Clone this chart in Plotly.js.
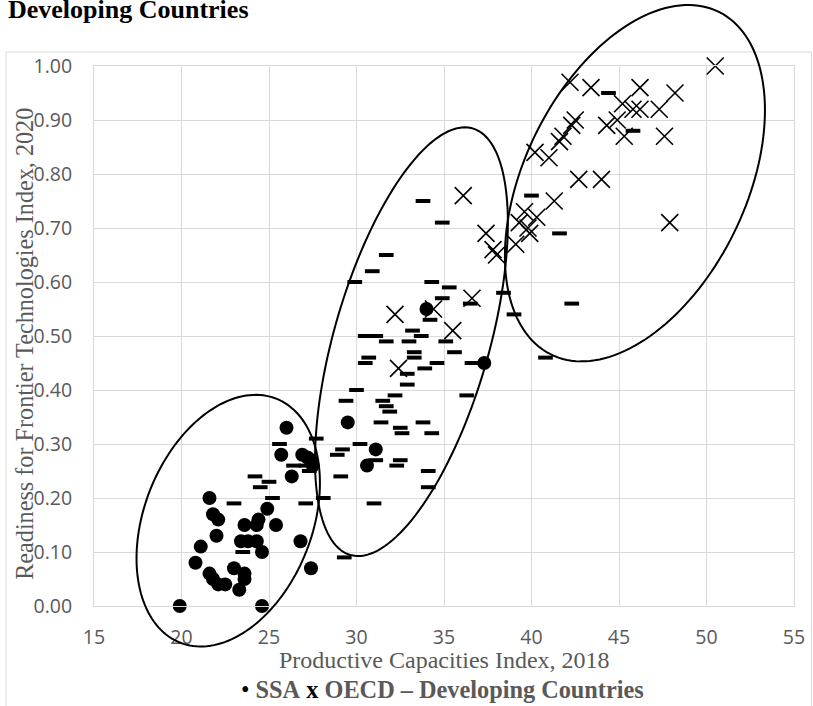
<!DOCTYPE html>
<html>
<head>
<meta charset="utf-8">
<script src="https://cdn.plot.ly/plotly-3.0.1.min.js"></script>
<style>html,body{margin:0;padding:0;background:#fff;}#chart{width:813px;height:706px;}</style>
</head>
<body>
<div id="chart"></div>
<script>
// ---- Data ----
const ssaX = [26.0,25.7,26.9,27.4,27.2,27.5,26.3,21.6,21.8,22.1,24.9,25.4,23.6,24.4,24.3,22.0,23.4,23.8,24.3,24.6,26.8,21.1,20.8,23.0,23.6,23.6,23.3,21.6,21.8,22.1,22.5,27.4,19.9,24.6,34.0,37.3,29.5,31.1,30.6];
const ssaY = [0.33,0.28,0.28,0.27,0.275,0.26,0.24,0.20,0.17,0.16,0.18,0.15,0.15,0.16,0.15,0.13,0.12,0.12,0.12,0.10,0.12,0.11,0.08,0.07,0.06,0.05,0.03,0.06,0.05,0.04,0.04,0.07,0.00,0.00,0.55,0.45,0.34,0.29,0.26];

const oecdX = [50.5,42.2,43.4,46.2,48.2,45.2,45.8,46.2,47.3,44.3,44.9,45.3,47.6,42.5,42.3,41.6,41.8,40.2,41.0,42.7,44.0,41.3,47.9,39.6,40.3,39.3,39.9,39.8,39.1,37.8,38.0,37.4,36.1,36.6,34.4,35.5,32.2,32.4];
const oecdY = [1.00,0.97,0.96,0.96,0.95,0.93,0.92,0.92,0.92,0.89,0.90,0.87,0.87,0.90,0.89,0.86,0.87,0.84,0.83,0.79,0.79,0.75,0.71,0.73,0.72,0.71,0.69,0.70,0.67,0.66,0.65,0.69,0.76,0.57,0.55,0.51,0.54,0.44];

const devX = [33.8,34.9,31.7,30.9,29.9,34.3,35.3,34.9,36.5,38.4,39.0,34.2,33.2,30.5,31.1,31.7,33.0,33.7,35.1,35.6,33.3,30.7,30.5,33.3,34.6,36.6,33.9,32.9,32.9,30.0,32.2,36.3,29.4,31.5,31.7,31.9,31.4,33.8,32.5,32.6,34.3,27.7,30.2,29.2,28.9,31.1,32.5,32.3,27.3,34.1,29.1,34.1,28.1,27.1,31.0,29.3,25.6,26.4,27.1,24.2,25.0,24.5,23.0,25.2,23.5,44.4,45.8,40.0,41.6,42.3,40.8];
const devY = [0.75,0.71,0.65,0.62,0.60,0.60,0.59,0.57,0.56,0.58,0.54,0.53,0.51,0.50,0.50,0.49,0.49,0.50,0.49,0.47,0.47,0.46,0.45,0.46,0.45,0.45,0.44,0.43,0.41,0.40,0.39,0.39,0.38,0.38,0.37,0.36,0.34,0.34,0.33,0.32,0.32,0.31,0.30,0.29,0.28,0.27,0.27,0.26,0.25,0.25,0.24,0.22,0.20,0.19,0.19,0.09,0.30,0.26,0.26,0.24,0.23,0.22,0.19,0.20,0.10,0.95,0.88,0.76,0.69,0.56,0.46];

const xTicks = [15,20,25,30,35,40,45,50,55];
const yTicks = [0,0.1,0.2,0.3,0.4,0.5,0.6,0.7,0.8,0.9,1.0];

// ---- Decorative cluster ellipses (data units: centre, half-width, half-height, phase cos) ----
const ellipseCX = [22.67, 33.14, 45.91];
const ellipseCY = [0.158, 0.4895, 0.783];
const ellipseW  = [5.24, 5.51, 7.43];
const ellipseH  = [0.233, 0.397, 0.330];
const ellipseC  = [0.30, 0.553, 0.41];

const XMIN = 15, XMAX = 55, YMIN = 0, YMAX = 1;
const toPX = x => (x - XMIN) / (XMAX - XMIN);
const toPY = y => (y - YMIN) / (YMAX - YMIN);

function ellipsePath(i) {
  const d = Math.acos(ellipseC[i]);
  const pts = [];
  const N = 160;
  for (let k = 0; k < N; k++) {
    const t = 2 * Math.PI * k / N;
    const x = ellipseCX[i] + ellipseW[i] * Math.cos(t);
    const y = ellipseCY[i] + ellipseH[i] * Math.cos(t - d);
    pts.push(toPX(x).toFixed(5) + ',' + toPY(y).toFixed(5));
  }
  return 'M' + pts.join('L') + 'Z';
}

const traces = [
  {x: ssaX, y: ssaY, name: 'SSA', type: 'scatter', mode: 'markers', cliponaxis: false,
   marker: {symbol: 'circle', size: 14, color: '#000', line: {width: 0}}},
  {x: oecdX, y: oecdY, name: 'OECD', type: 'scatter', mode: 'markers', cliponaxis: false,
   marker: {symbol: 'x-thin', size: 17, color: '#000', line: {width: 1.6, color: '#000'}}},
  {x: devX, y: devY, name: 'Developing Countries', type: 'scatter', mode: 'markers', cliponaxis: false,
   marker: {symbol: 'line-ew', size: 10.5, color: '#000', line: {width: 4, color: '#000'}}}
];

const shapes = [];
for (let i = 0; i < ellipseCX.length; i++) {
  shapes.push({type: 'path', xref: 'paper', yref: 'paper', path: ellipsePath(i),
               line: {color: '#000', width: 2}, fillcolor: 'rgba(0,0,0,0)', layer: 'above'});
}
// chart-area border
shapes.push({type: 'rect', xref: 'paper', yref: 'paper', x0: -0.1257, x1: 1.025, y0: -0.22, y1: 1.0259,
             line: {color: '#d9d9d9', width: 1}, fillcolor: 'rgba(0,0,0,0)', layer: 'below'});

const serif = 'Liberation Serif, Times New Roman, serif';
const tickFont = {family: 'Open Sans, sans-serif', size: 19.5, color: '#595959'};

const layout = {
  width: 813, height: 706,
  margin: {l: 94, r: 19, t: 66, b: 100, pad: 0},
  paper_bgcolor: '#fff', plot_bgcolor: '#fff',
  showlegend: false,
  xaxis: {range: [XMIN, XMAX], tickvals: xTicks, ticktext: xTicks.map(String),
          showgrid: true, gridcolor: '#d9d9d9', gridwidth: 1, zeroline: false,
          showline: true, linecolor: '#d9d9d9', linewidth: 1, mirror: true,
          ticks: 'outside', ticklen: 14, tickcolor: 'rgba(0,0,0,0)',
          tickfont: tickFont, fixedrange: true},
  yaxis: {range: [YMIN, YMAX], tickvals: yTicks, ticktext: yTicks.map(v => v.toFixed(2)),
          showgrid: true, gridcolor: '#d9d9d9', gridwidth: 1, zeroline: false,
          showline: true, linecolor: '#d9d9d9', linewidth: 1, mirror: true,
          ticks: 'outside', ticklen: 17, tickcolor: 'rgba(0,0,0,0)',
          tickfont: tickFont, fixedrange: true},
  shapes: shapes,
  annotations: [
    {text: '<b>Developing Countries</b>', xref: 'paper', yref: 'paper', x: -0.1257, y: 1.1052,
     xanchor: 'left', yanchor: 'middle', showarrow: false, font: {family: serif, size: 26, color: '#000'}},
    {text: 'Productive Capacities Index, 2018', xref: 'paper', yref: 'paper', x: 0.5, y: -0.1,
     xanchor: 'center', yanchor: 'middle', showarrow: false, font: {family: serif, size: 24, color: '#595959'}},
    {text: 'Readiness for Frontier Technologies Index, 2020', xref: 'paper', yref: 'paper', x: -0.0986, y: 0.4855,
     xanchor: 'center', yanchor: 'middle', textangle: -90, showarrow: false, font: {family: serif, size: 24.2, color: '#595959'}},
    {text: '<span style="color:#000">•</span> <b>SSA</b> <b><span style="color:#000">x</span></b> <b>OECD – Developing Countries</b>',
     xref: 'paper', yref: 'paper', x: 0.4979, y: -0.155, xanchor: 'center', yanchor: 'middle', showarrow: false,
     font: {family: serif, size: 24.3, color: '#595959'}}
  ]
};

Plotly.newPlot('chart', traces, layout, {staticPlot: true, displayModeBar: false});
</script>
</body>
</html>
